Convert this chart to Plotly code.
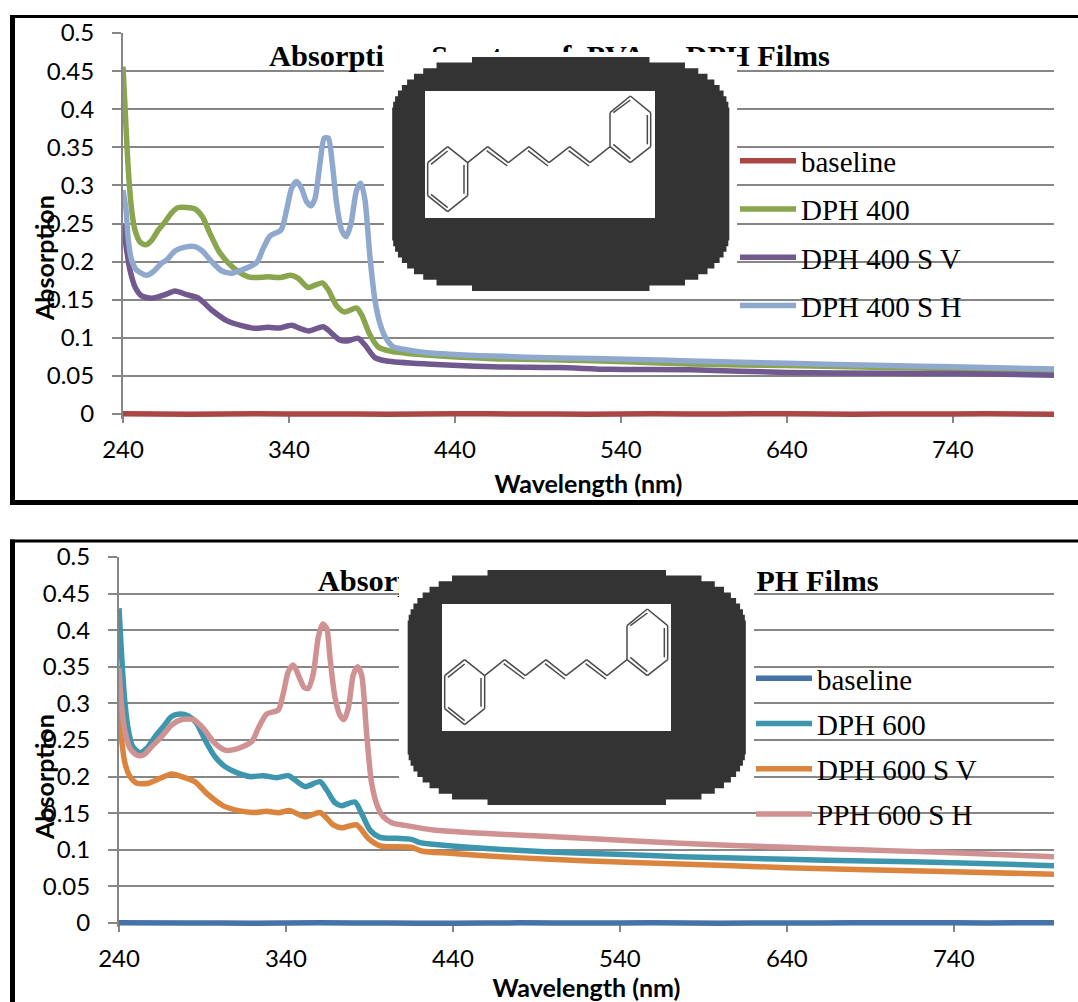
import plotly.graph_objects as go

W, H = 1078, 1002

# ---------------- data ----------------
y_ticks = [0, 0.05, 0.1, 0.15, 0.2, 0.25, 0.3, 0.35, 0.4, 0.45, 0.5]
y_labels = ["0", "0.05", "0.1", "0.15", "0.2", "0.25", "0.3", "0.35", "0.4", "0.45", "0.5"]
x_ticks = [240, 340, 440, 540, 640, 740]
x_labels = ["240", "340", "440", "540", "640", "740"]

base_wl = [240, 280, 320, 360, 400, 440, 480, 520, 560, 600, 640, 680, 720, 760, 801]
base_400 = [0.0003, -0.0003, 0.0002, 0.0, -0.0002, 0.0003, 0.0, -0.0002, 0.0002, 0.0, 0.0003, -0.0002, 0.0, 0.0002, -0.0002]
base_600 = [0.0004, 0.0, -0.0002, 0.0002, 0.0, -0.0003, 0.0002, 0.0, 0.0003, -0.0002, 0.0, 0.0002, 0.0004, 0.0, 0.0005]

wl_d400 = [240, 241.8, 243.2, 245.2, 247.2, 250.2, 253.6, 257.3, 261.3, 265.3, 269.3, 273.3, 278.4, 283.4, 287.8, 292.4,
           297.4, 303.5, 309.5, 315.5, 320.5, 327.5, 334.6, 341.2, 345.6, 351.6, 355.7, 360.1, 363.7, 368.7, 373.3,
           380.8, 383.8, 388.8, 393.8, 400.9, 423, 463, 503, 543, 582, 640, 700, 740, 801]
abs_d400 = [0.456, 0.377, 0.32, 0.268, 0.2415, 0.226, 0.222, 0.228, 0.2415, 0.252, 0.264, 0.271, 0.271, 0.269, 0.259, 0.237,
            0.215, 0.198, 0.187, 0.18, 0.179, 0.18, 0.179, 0.182, 0.178, 0.166, 0.169, 0.172, 0.163, 0.142, 0.134,
            0.139, 0.13, 0.104, 0.088, 0.0827, 0.0774, 0.0726, 0.0709, 0.0687, 0.0656, 0.0635, 0.061, 0.0595, 0.057]

wl_d400v = [240, 242.2, 244.2, 247.2, 251.2, 257.3, 265.3, 271.3, 278.4, 285.4, 293.4, 302.5, 311.5, 319.5, 327.5, 334.6,
            341.6, 346.6, 352, 360.7, 363.7, 370.7, 374.7, 381.8, 385.8, 391.8, 398.9, 423, 463, 503, 533, 582, 640, 700, 740, 801]
abs_d400v = [0.25, 0.215, 0.189, 0.167, 0.155, 0.152, 0.1566, 0.1614, 0.1566, 0.152, 0.1365, 0.1225, 0.116, 0.1124, 0.1137, 0.1129,
             0.1164, 0.1124, 0.109, 0.1146, 0.11, 0.097, 0.0958, 0.0993, 0.0905, 0.074, 0.0696, 0.0656, 0.062, 0.061, 0.0586, 0.058, 0.0545, 0.0535, 0.053, 0.051]

wl_d400h = [240, 241.8, 243.2, 245.2, 248.2, 254.3, 258.3, 263.3, 266.3, 271.3, 277.3, 283.4, 287.8, 293.4, 299.4, 305.5,
            311.5, 320.5, 324.5, 328.6, 335.2, 338.6, 341.6, 344.6, 347.6, 350.6, 353.3, 355.7, 358.7, 361.3, 363.7,
            366.1, 368.7, 371.7, 374.5, 377.4, 380.8, 383.4, 385.8, 388.8, 391.8, 394.8, 397.9, 402.9, 409, 423, 463, 503, 543, 582, 640, 700, 740, 801]
abs_d400h = [0.294, 0.268, 0.228, 0.202, 0.189, 0.182, 0.187, 0.198, 0.202, 0.214, 0.219, 0.2196, 0.214, 0.2, 0.188, 0.1846,
             0.189, 0.1986, 0.2174, 0.2336, 0.2415, 0.268, 0.296, 0.305, 0.296, 0.2787, 0.2734, 0.283, 0.329, 0.362, 0.362,
             0.329, 0.2765, 0.2415, 0.2327, 0.25, 0.294, 0.3027, 0.281, 0.2065, 0.1496, 0.119, 0.1015, 0.088, 0.085, 0.0805, 0.076, 0.0735, 0.072, 0.0696, 0.0665, 0.0635, 0.062, 0.059]

wl_d600 = [240, 241.6, 243.6, 245.6, 248.2, 252.6, 256.6, 261.6, 266.5, 271.5, 276.5, 281.5, 286.5, 291.5, 297.5, 303.5,
           310.5, 318.4, 326.4, 334.4, 341.4, 345.4, 351.4, 360.4, 364.4, 369.3, 373.3, 381.3, 385.3, 390.3, 396.3,
           406, 415.2, 420.2, 428.2, 458, 498, 538, 576, 640, 688, 740, 800]
abs_d600 = [0.43, 0.364, 0.3, 0.2637, 0.241, 0.2327, 0.2386, 0.2546, 0.2682, 0.282, 0.2855, 0.283, 0.2728, 0.25, 0.2272, 0.2136,
            0.2054, 0.2, 0.2013, 0.1985, 0.2013, 0.1954, 0.1863, 0.193, 0.1817, 0.1644, 0.1603, 0.1653, 0.1498, 0.127, 0.117,
            0.1157, 0.1143, 0.1097, 0.1075, 0.102, 0.097, 0.0938, 0.0906, 0.087, 0.0847, 0.0824, 0.0783]

wl_d600v = [240, 241.6, 243.6, 246.6, 250.6, 257.6, 264.5, 271.5, 277.5, 285.5, 292.5, 302.5, 311.5, 320.4, 328.4, 335.4,
            342.4, 351.4, 360.4, 368.3, 373.3, 382.3, 389.3, 396.3, 415.2, 421.2, 438, 478, 518, 576, 640, 688, 740, 800]
abs_d600v = [0.2955, 0.25, 0.218, 0.2, 0.191, 0.191, 0.1976, 0.2036, 0.2, 0.193, 0.177, 0.16, 0.1535, 0.151, 0.1525, 0.1507,
             0.1535, 0.145, 0.151, 0.134, 0.13, 0.134, 0.1157, 0.1055, 0.1034, 0.0984, 0.0952, 0.0893, 0.0852, 0.0806, 0.0756, 0.0729, 0.0701, 0.0665]

wl_p600h = [240, 241.2, 243.6, 246.6, 250.6, 254.6, 259.6, 265.5, 271.5, 277.5, 284.5, 290.5, 296.5, 303.5, 309.5, 319.4,
            323.4, 328.4, 335.4, 338.4, 341.4, 344.4, 347.4, 350.8, 353.4, 356.4, 359.4, 362, 364.4, 366.3, 369.3,
            372.3, 374.7, 377.3, 380.3, 382.9, 385.3, 388.3, 391.3, 395.3, 398.3, 403.3, 412.2, 428.2, 458, 498, 538, 576, 640, 688, 740, 800]
abs_p600h = [0.348, 0.3047, 0.2614, 0.2386, 0.2295, 0.2295, 0.241, 0.2546, 0.2705, 0.278, 0.278, 0.266, 0.2477, 0.2363, 0.2372, 0.2477,
             0.266, 0.2855, 0.291, 0.3137, 0.3433, 0.3525, 0.3388, 0.322, 0.3206, 0.341, 0.391, 0.4085, 0.4025, 0.3638, 0.309,
             0.284, 0.278, 0.293, 0.3388, 0.35, 0.3388, 0.259, 0.191, 0.1566, 0.1453, 0.137, 0.133, 0.127, 0.1225, 0.118, 0.1134, 0.1088, 0.1034, 0.0997, 0.096, 0.0906]

# ---------------- layout helpers (pixels of the 1078x1002 page) ----------------
GRID = "#868686"
Y_LOW = -0.006   # a little room under 0 so the baseline is not cut in half by the plot clip
def fx(p): return p / W
def fy(p): return 1 - p / H

def rect(x0, y0, x1, y1, fill, layer="above"):
    return dict(type="rect", xref="paper", yref="paper", x0=fx(x0), x1=fx(x1), y0=fy(y0), y1=fy(y1),
                fillcolor=fill, line_width=0, layer=layer)

def stepped_blob(x0, y0, x1, y1, rx=80, ry=54, step=5.6):
    """Pixelated rounded box, as in the low-resolution pasted picture."""
    n = int(ry / step)
    off = [(rx * (1 - (1 - ((ry - k * step) / ry) ** 2) ** 0.5), k * step) for k in range(n + 1)]
    tl = []
    for dx, dy in sorted(off, key=lambda t: -t[1]):
        tl.append((x0 + dx, min(y0 + dy + step, y0 + ry)))
        tl.append((x0 + dx, y0 + dy))
    path = list(tl)
    path += [(x1 - (px - x0), py) for px, py in reversed(tl)]
    path += [(x1 - (px - x0), y1 - (py - y0)) for px, py in tl]
    path += [(px, y1 - (py - y0)) for px, py in reversed(tl)]
    return "M" + " L".join(f"{fx(a):.5f},{fy(b):.5f}" for a, b in path) + " Z"

# skeleton of the molecule, in thirds of a pixel relative to the white box corner
ring_left = [(68, 167), (128, 215), (128, 314), (68, 362), (8, 314), (8, 215)]
chain = [(128, 215), (188, 167), (250, 215), (312, 167), (372, 215), (434, 167), (495, 215), (555, 167)]
ring_right = [(555, 167), (555, 65), (616, 15), (677, 65), (677, 167), (616, 215)]

def molecule_shapes(bx, by):
    shapes = []
    def seg(a, b, width=1.5):
        shapes.append(dict(type="line", xref="paper", yref="paper",
                           x0=fx(bx + a[0] / 3), y0=fy(by + a[1] / 3), x1=fx(bx + b[0] / 3), y1=fy(by + b[1] / 3),
                           line=dict(color="#4a4a4a", width=width), layer="above"))
    def closed(r):
        for i in range(len(r)):
            seg(r[i], r[(i + 1) % len(r)])
    closed(ring_left); closed(ring_right)
    for i in range(len(chain) - 1):
        seg(chain[i], chain[i + 1])
    for i in (1, 3, 5):
        a, b = chain[i], chain[i + 1]
        seg((a[0] - 3, a[1] + 12), (b[0] - 3, b[1] + 10))
    for a, b in [((68, 180), (18, 220)), ((117, 222), (117, 308)), ((18, 310), (68, 350)),
                 ((565, 65), (616, 27)), ((667, 72), (667, 160)), ((565, 160), (616, 203))]:
        seg(a, b)
    return shapes

def frame_shapes():
    return [
        rect(10, 15, W, 18, "#000000"), rect(10, 15, 15, 505, "#000000"), rect(10, 500, W, 505, "#000000"),
        rect(10, 539.5, W, 542.5, "#000000"), rect(10, 539.5, 15, H, "#000000"),
    ]

# ---------------- figure ----------------
fig = go.Figure()

def add(x, y, name, color, xa, ya, legend):
    fig.add_trace(go.Scatter(x=x, y=y, name=name, mode="lines", xaxis=xa, yaxis=ya, legend=legend,
                             legendgroup=name,
                             line=dict(color=color, width=5.5, shape="spline", smoothing=0.7)))

add(base_wl, base_400, "baseline", "#AA4643", "x", "y", "legend")
add(wl_d400, abs_d400, "DPH 400", "#89A54E", "x", "y", "legend")
add(wl_d400v, abs_d400v, "DPH 400 S V", "#71588F", "x", "y", "legend")
add(wl_d400h, abs_d400h, "DPH 400 S H", "#8FA8CE", "x", "y", "legend")

add([min(w, 800) for w in base_wl], base_600, "baseline ", "#4572A7", "x2", "y2", "legend2")
add(wl_d600, abs_d600, "DPH 600", "#3D96AE", "x2", "y2", "legend2")
add(wl_d600v, abs_d600v, "DPH 600 S V", "#DB843D", "x2", "y2", "legend2")
add(wl_p600h, abs_p600h, "PPH 600 S H", "#CF9191", "x2", "y2", "legend2")

TITLE = "Absorption\u00a0\u00a0Spectra\u00a0\u00a0of\u00a0\u00a0PVA\u00a0\u00a0-\u00a0\u00a0DPH Films"
for xa, ya, tx, ty in [("x", "y", 497, 0.4665), ("x2", "y2", 527, 0.4638)]:
    fig.add_trace(go.Scatter(x=[tx], y=[ty], mode="text", text=[TITLE], xaxis=xa, yaxis=ya, showlegend=False,
                             textposition="middle center", cliponaxis=False, hoverinfo="skip",
                             textfont=dict(family="Liberation Serif", size=30.4, color="#000000", weight="bold")))

shapes = frame_shapes()
shapes.append(rect(384, 52, 737, 296, "#ffffff"))
shapes.append(dict(type="path", xref="paper", yref="paper", path=stepped_blob(392, 57, 729.5, 291),
                   fillcolor="#333333", line_width=0, layer="above"))
shapes.append(rect(425, 91, 655, 218, "#ffffff"))
shapes += molecule_shapes(425, 91)
shapes.append(rect(399, 562, 754, 810, "#ffffff"))
shapes.append(rect(754, 566, 757, 592, "#ffffff"))
shapes.append(dict(type="path", xref="paper", yref="paper", path=stepped_blob(407.5, 570, 746, 805),
                   fillcolor="#333333", line_width=0, layer="above"))
shapes.append(rect(442, 604, 671, 731, "#ffffff"))
shapes += molecule_shapes(442, 604)

axis_common = dict(showline=True, linecolor=GRID, linewidth=2, ticks="outside", tickcolor=GRID, tickwidth=2,
                   tickfont=dict(family="Lato", size=24, color="#000000"), zeroline=False, layer="below traces")
x_common = dict(axis_common, tickmode="array", tickvals=x_ticks, ticktext=x_labels, showgrid=False, ticklen=8,
                ticklabelstandoff=6)
x_title_font = dict(family="Lato", size=25, color="#000000", weight="bold")
y_common = dict(axis_common, tickmode="array", tickvals=y_ticks, ticktext=y_labels, showgrid=True, gridcolor=GRID, gridwidth=2,
                ticklen=9, ticklabelstandoff=13, range=[Y_LOW, 0.5])

legend_common = dict(bgcolor="rgba(0,0,0,0)", borderwidth=0, itemwidth=56, xanchor="left", yanchor="top", traceorder="grouped",
                     font=dict(family="Liberation Serif", size=29, color="#000000"), itemclick=False, itemdoubleclick=False)

fig.update_layout(
    width=W, height=H, margin=dict(l=0, r=0, t=0, b=0, autoexpand=False), autosize=False,
    paper_bgcolor="#ffffff", plot_bgcolor="#ffffff", showlegend=True, shapes=shapes,
    xaxis=dict(x_common, domain=[fx(123), fx(1054)], range=[240, 801], anchor="free", position=fy(414),
               title=dict(text="Wavelength (nm)", standoff=13, font=x_title_font)),
    yaxis=dict(y_common, domain=[fy(414 - Y_LOW * 762), fy(33)], anchor="x"),
    xaxis2=dict(x_common, domain=[fx(119), fx(1054)], range=[240, 800], anchor="free", position=fy(923),
                title=dict(text="Wavelength (nm)", standoff=6, font=x_title_font)),
    yaxis2=dict(y_common, domain=[fy(923 - Y_LOW * 732), fy(557)], anchor="x2"),
    legend=dict(legend_common, x=fx(735), y=fy(135.5), tracegroupgap=7.5),
    legend2=dict(legend_common, x=fx(751), y=fy(653), tracegroupgap=4.5),
    annotations=[
        dict(text="<b>Absorption</b>", xref="paper", yref="paper", x=fx(44), y=fy(258), textangle=-90, showarrow=False,
             xanchor="center", yanchor="middle", font=dict(family="Lato", size=25, color="#000000")),
        dict(text="<b>Absorption</b>", xref="paper", yref="paper", x=fx(44), y=fy(777), textangle=-90, showarrow=False,
             xanchor="center", yanchor="middle", font=dict(family="Lato", size=25, color="#000000")),
    ],
)

fig.write_html("out.html", config={"displayModeBar": False}, post_script="document.body.style.margin='0';")
